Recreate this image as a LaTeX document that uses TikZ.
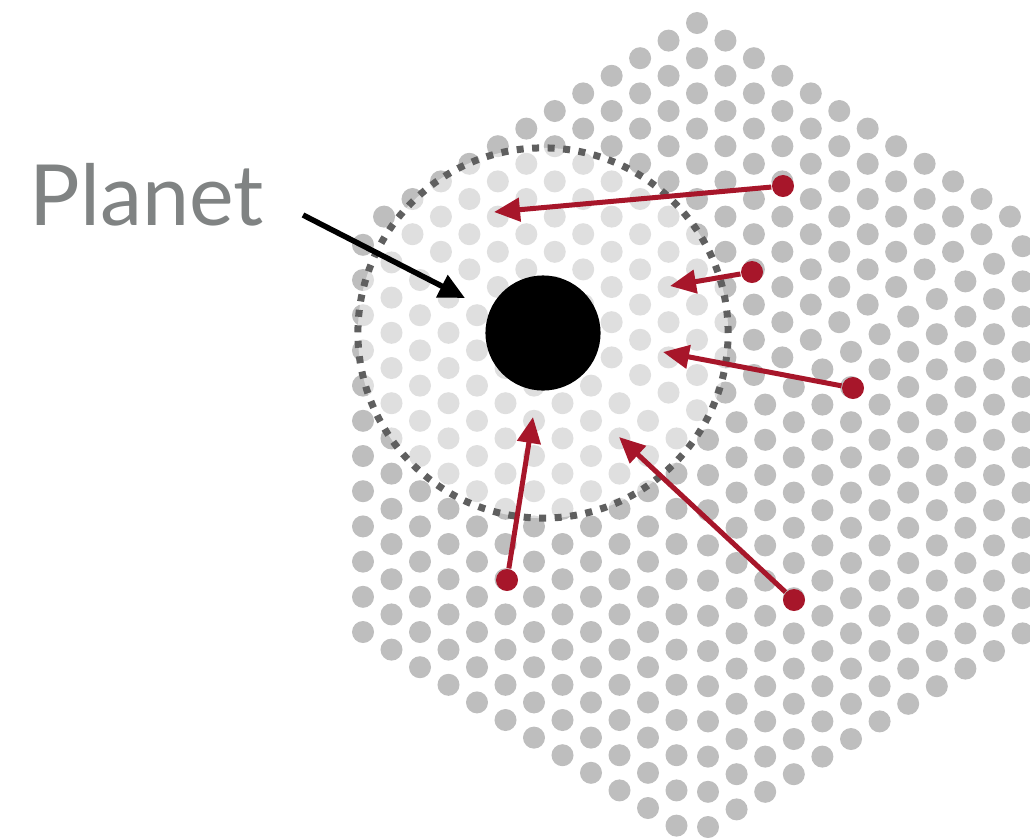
\documentclass[tikz,border=0pt]{standalone}
\usepackage{fontspec}
\newfontfamily\labelfont{Lato}
\usepackage{tikz}
\usetikzlibrary{arrows.meta,positioning,calc}
\definecolor{dotGray}{RGB}{190,190,190}
\definecolor{rimGray}{RGB}{95,95,95}
\definecolor{labelGray}{RGB}{128,131,131}
\definecolor{flowRed}{RGB}{167,22,42}

\begin{document}
\begin{tikzpicture}[x=0.01cm, y=-0.01cm,
  every node/.style={inner sep=0pt},
  grain/.style={fill=dotGray},
  halo/.style={circle, minimum size=3.70cm, fill=white, fill opacity=0.52,
    draw=rimGray, line width=0.07cm, dash pattern=on 0.07cm off 0.085cm},
  planet/.style={circle, fill=black, minimum size=1.15cm},
  srcdot/.style={circle, fill=flowRed, minimum size=0.22cm},
  inflow/.style={draw=flowRed, line width=0.05cm, -{Triangle[length=0.26cm,width=0.23cm]}},
  pointer/.style={draw=black, line width=0.055cm, -{Triangle[length=0.26cm,width=0.24cm]}}]

  \useasboundingbox (0,0) rectangle (1030,839);
  \clip (0,0) rectangle (1030,839);

  % Disc: top grain
  \foreach \i in {-11,...,11}{
    \pgfmathtruncatemacro\n{11-abs(\i)}
    \pgfmathsetmacro\top{23+17.6*abs(\i)}
    \foreach \m in {0,...,\n}
      \fill[grain] ({697+28.45*\i}, {\top+35.2*\m}) circle[radius=0.11cm];
  }
  % Disc: left grain
  \foreach \j in {0,...,11}
    \foreach \m in {0,...,11}
      \fill[grain] ({363+28.5*\j}, {632+17.6*\j-35.2*\m}) circle[radius=0.11cm];
  % Disc: right grain
  \foreach \k in {0,...,11}
    \foreach \m in {0,...,11}
      \fill[grain] ({708+28.6*\k}, {827-17.6*\k-35.2*\m}) circle[radius=0.11cm];

  % Hill sphere and planet
  \node[halo] (hill) at (543,333) {};
  \node[planet] (planet) at (543,333) {};

  % Label
  \node[anchor=base west, text=labelGray, font=\labelfont\fontsize{24}{28}\selectfont]
    (label) at (29,225) {Planet};
  \coordinate (tail) at (303,215);
  \coordinate (aim) at (465,298);
  \draw[pointer] (tail) -- (aim);

  % Inflowing gas
  \node[srcdot] (s1) at (783,186) {};
  \coordinate (t1) at (494,212);
  \node[srcdot] (s2) at (752,272) {};
  \coordinate (t2) at (670,286);
  \node[srcdot] (s3) at (853,388) {};
  \coordinate (t3) at (663,352);
  \node[srcdot] (s4) at (507,580) {};
  \coordinate (t4) at (533,417);
  \node[srcdot] (s5) at (794,600) {};
  \coordinate (t5) at (619,437);
  \draw[inflow] (s1) -- (t1);
  \draw[inflow] (s2) -- (t2);
  \draw[inflow] (s3) -- (t3);
  \draw[inflow] (s4) -- (t4);
  \draw[inflow] (s5) -- (t5);
\end{tikzpicture}
\end{document}
